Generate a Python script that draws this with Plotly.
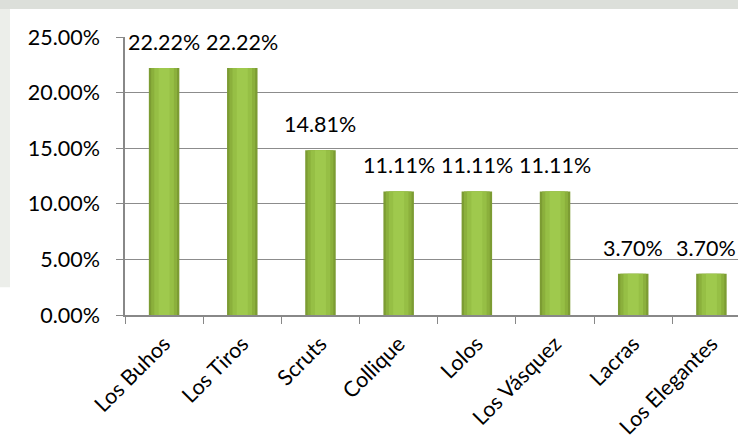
import plotly.graph_objects as go

categories = ["Los Buhos", "Los Tiros", "Scruts", "Collique", "Lolos",
              "Los Vásquez", "Lacras", "Los Elegantes"]
values = [0.2222, 0.2222, 0.1481, 0.1111, 0.1111, 0.1111, 0.0370, 0.0370]
labels = ["22.22%", "22.22%", "14.81%", "11.11%", "11.11%", "11.11%", "3.70%", "3.70%"]
y_ticks = [0, 0.05, 0.10, 0.15, 0.20, 0.25]

FONT = "Lato"
fs = 21.5
fs_x = 21.5

fig = go.Figure()
# pseudo gradient: layered bars, darker outside, lighter inside
layers = [(0.39, "#7c9c33"), (0.33, "#8bb03c"), (0.25, "#96bf45"), (0.14, "#9fc94d")]
for w, c in layers:
    fig.add_trace(go.Bar(x=categories, y=values, width=w, marker_color=c,
                         marker_line_width=0, hoverinfo="skip", showlegend=False))

for i, (cat, v, t) in enumerate(zip(categories, values, labels)):
    fig.add_annotation(x=cat, y=v, text=t, showarrow=False, yanchor="bottom",
                       yshift=11, xshift=(-5 if i == len(categories) - 1 else 0),
                       font=dict(family=FONT, size=fs, color="black"))

# faint background strips (watermark area outside chart box)
fig.add_shape(type="rect", xref="paper", yref="paper", x0=-0.21, x1=1.01,
              y0=1.1007, y1=1.135, fillcolor="#dcdfda", line_width=0, layer="above")
fig.add_shape(type="rect", xref="paper", yref="paper", x0=-0.21, x1=-0.1876,
              y0=0.1, y1=1.1007, fillcolor="#eceeea", line_width=0, layer="below")

fig.update_layout(
    width=738, height=442,
    margin=dict(l=125, r=0, t=37, b=127),
    paper_bgcolor="white", plot_bgcolor="white",
    barmode="overlay",
    font=dict(family=FONT, size=fs, color="black"),
    xaxis=dict(type="category", range=[-0.5, 7.34], tickangle=-45,
               tickson="boundaries", ticks="outside", ticklen=7, tickcolor="#888888",
               showline=True, linecolor="#888888", linewidth=1.5,
               showgrid=False, automargin=False, ticklabelstandoff=6,
               tickfont=dict(family=FONT, size=fs_x)),
    yaxis=dict(range=[0, 0.25], tickvals=y_ticks, tickformat=".2%",
               ticks="outside", ticklen=7, tickcolor="#888888",
               showline=True, linecolor="#888888", linewidth=1.5,
               showgrid=True, gridcolor="#8c8c8c", gridwidth=1,
               zeroline=False, ticklabelstandoff=12, automargin=False,
               tickfont=dict(family=FONT, size=fs)),
)

fig.write_html("out.html", config={"displayModeBar": False},
               post_script="document.body.style.margin='0';document.body.style.overflow='hidden';")
